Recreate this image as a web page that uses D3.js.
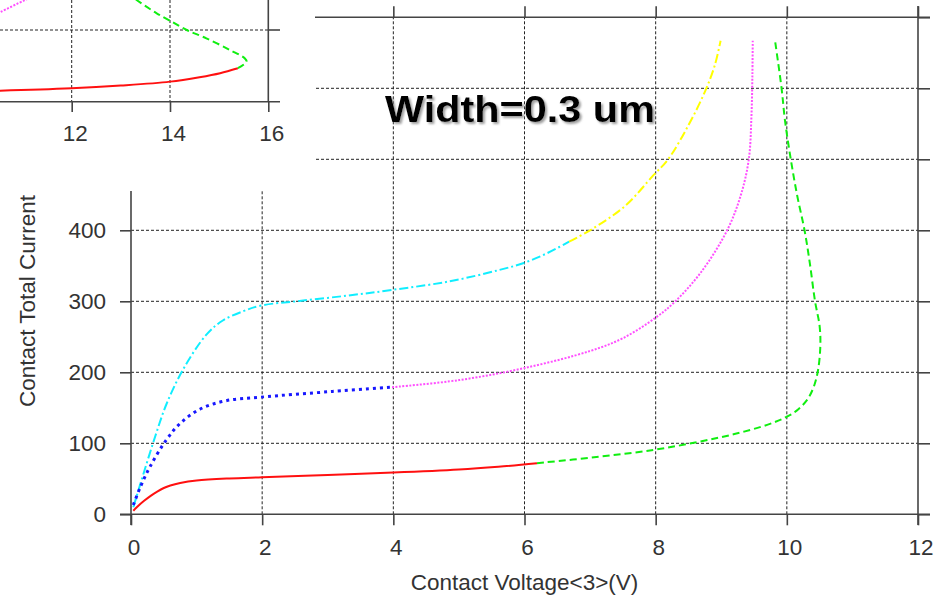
<!DOCTYPE html>
<html><head><meta charset="utf-8">
<script src="https://cdn.jsdelivr.net/npm/d3@7"></script>
<style>body{margin:0;background:#fff}svg{display:block}</style>
</head><body><svg id="c" width="946" height="597"></svg>
<script>
// ---------- data ----------
const xTicks = [0, 2, 4, 6, 8, 10, 12];
const yTickLabels = [0, 100, 200, 300, 400];
const yGridVals = [100, 200, 300, 400, 500, 600];
const yFrameTicks = [0, 100, 200, 300, 400, 500, 600, 700];
const insetTicks = [12, 14, 16];
const xTitle = "Contact Voltage<3>(V)";
const yTitle = "Contact Total Current";
const note = "Width=0.3 um";

const redV = [0.035, 0.1, 0.2, 0.3, 0.4, 0.5, 0.6, 0.75, 1.0, 1.5, 2.0, 3.0, 4.0, 5.0, 5.6, 6.19];
const redI = [5, 11, 19, 26, 32, 37, 40.5, 44, 47.5, 50.5, 52.2, 55.5, 58.7, 63, 67, 72];
const greenV = [6.19, 7.13, 7.97, 8.65, 9.2, 9.7, 9.97, 10.15, 10.3, 10.4, 10.47, 10.51, 10.5, 10.43, 10.35, 10.27, 10.16, 10.06, 9.97, 9.92, 9.82];
const greenI = [72, 81, 90.7, 102, 113, 126, 136, 146, 160, 177, 200, 235, 265, 300, 354, 400, 448, 500, 556, 600, 667];
const cyanV = [0.035, 0.2, 0.37, 0.54, 0.8, 1.15, 1.4, 1.71, 1.98, 2.57, 3.3, 3.98, 4.85, 5.61, 5.99, 6.35, 6.68];
const cyanI = [10, 60, 110, 155, 205, 253, 273, 286, 294, 300.5, 308, 316, 328, 344, 354, 368, 384];
const yellowV = [6.68, 7.0, 7.53, 7.97, 8.19, 8.5, 8.75, 8.9, 8.99];
const yellowI = [384, 400, 434, 478, 500, 548, 595, 632, 667];
const blueV = [0.035, 0.15, 0.29, 0.54, 0.75, 1.05, 1.45, 1.98, 3.07, 3.98];
const blueI = [13, 40, 67, 105, 128, 148, 160, 165, 173, 179];
const magentaV = [3.98, 5.0, 6.0, 7.0, 7.5, 8.0, 8.3, 8.7, 9.09, 9.3, 9.42, 9.46, 9.475, 9.48];
const magentaI = [179, 189, 206, 230, 248, 277, 300, 342, 400, 450, 500, 560, 620, 667];

// inset (cropped second chart)
const insetRedV = [10.3, 10.54, 12.0, 13.0, 14.0, 14.6, 15.02, 15.38];
const insetRedI = [15, 15.3, 18.6, 22.5, 28, 34.2, 39.8, 46.7];
const insetGreenV = [15.38, 15.557, 15.52, 15.22, 14.74, 14.34, 14.0, 13.73, 13.52, 13.32, 13.15];
const insetGreenI = [46.7, 55.8, 60.5, 72.1, 88.4, 100, 113, 123.3, 132.5, 141.8, 150];
const insetMagV = [10.3, 10.54, 11.05, 11.3];
const insetMagI = [117, 124.7, 141.8, 149];

// ---------- drawing ----------
const svg = d3.select("#c");
const FONT = "'Liberation Sans', Arial, sans-serif";
const AX = "#444";

const defs = svg.append("defs");
const flt = defs.append("filter").attr("id", "shadow").attr("x", "-5%").attr("y", "-20%").attr("width", "115%").attr("height", "150%");
flt.append("feDropShadow").attr("dx", 2).attr("dy", 2).attr("stdDeviation", 0.8)
  .attr("flood-color", "#888").attr("flood-opacity", 0.8);

const x = d3.scaleLinear().domain([0, 12]).range([131, 918]);
const y = d3.scaleLinear().domain([0, 700]).range([514.3, 17.3]);

// grid
const grid = svg.append("g").attr("stroke", "#222").attr("stroke-width", 1).attr("stroke-dasharray", "3,2");
grid.selectAll("line.h").data(yGridVals).join("line")
  .attr("x1", x(0)).attr("x2", x(12)).attr("y1", d => y(d)).attr("y2", d => y(d));
grid.selectAll("line.v").data(xTicks.slice(1, -1)).join("line")
  .attr("y1", y(0)).attr("y2", y(700)).attr("x1", d => x(d)).attr("x2", d => x(d));

// curves
const series = [
  {v: redV, i: redI, color: "#ff1010", dash: null, w: 2},
  {v: greenV, i: greenI, color: "#10ee10", dash: "7,4", w: 2},
  {v: cyanV, i: cyanI, color: "#10eeff", dash: "9,3,2,3", w: 2},
  {v: yellowV, i: yellowI, color: "#ffff00", dash: "9,3,2,3", w: 2},
  {v: blueV, i: blueI, color: "#1818ff", dash: "3,4", w: 3},
  {v: magentaV, i: magentaI, color: "#ff50ff", dash: "2,1.5", w: 2}
];
const line = d3.line().x(d => x(d[0])).y(d => y(d[1])).curve(d3.curveCatmullRom.alpha(0.5));
series.forEach(s => {
  svg.append("path").datum(d3.zip(s.v, s.i)).attr("d", line)
    .attr("fill", "none").attr("stroke", s.color).attr("stroke-width", s.w)
    .attr("stroke-dasharray", s.dash);
});

// frame lines
const frame = svg.append("g").attr("stroke", AX).attr("stroke-width", 1.6);
frame.append("line").attr("x1", 120).attr("x2", 930).attr("y1", y(0)).attr("y2", y(0));
frame.append("line").attr("x1", 120).attr("x2", 930).attr("y1", y(700)).attr("y2", y(700));
frame.append("line").attr("x1", x(0)).attr("x2", x(0)).attr("y1", 6).attr("y2", 525);
frame.append("line").attr("x1", x(12)).attr("x2", x(12)).attr("y1", 6).attr("y2", 525);

function styleAxis(g) {
  g.select(".domain").remove();
  g.selectAll(".tick line").attr("stroke", AX).attr("stroke-width", 1.6);
  g.selectAll(".tick text").attr("fill", "#333").style("font-family", FONT).style("font-size", "22.5px");
}
svg.append("g").attr("transform", `translate(0,${y(0)})`)
  .call(d3.axisBottom(x).tickValues(xTicks).tickSize(11).tickPadding(14))
  .call(styleAxis).call(g => g.selectAll(".tick text").attr("dx", 2.5));
svg.append("g").attr("transform", `translate(${x(0)},0)`)
  .call(d3.axisLeft(y).tickValues(yTickLabels).tickSize(11).tickPadding(14))
  .call(styleAxis);
svg.append("g").attr("transform", `translate(0,${y(700)})`)
  .call(d3.axisTop(x).tickValues(xTicks).tickSize(11).tickFormat(""))
  .call(styleAxis);
svg.append("g").attr("transform", `translate(${x(12)},0)`)
  .call(d3.axisRight(y).tickValues(yFrameTicks).tickSize(12).tickFormat(""))
  .call(styleAxis);

// titles
svg.append("text").attr("x", x(6)).attr("y", 590).attr("text-anchor", "middle")
  .attr("fill", "#333").style("font-family", FONT).style("font-size", "22.5px").text(xTitle);
svg.append("text").attr("transform", "translate(35,301) rotate(-90)").attr("text-anchor", "middle")
  .attr("fill", "#333").style("font-family", FONT).style("font-size", "22.5px").text(yTitle);

// ---------- overlay inset (cropped neighbouring chart) ----------
const ov = svg.append("g");
ov.append("rect").attr("x", 0).attr("y", 0).attr("width", 315).attr("height", 191).attr("fill", "#fff");

const ix = d3.scaleLinear().domain([12, 16]).range([71.7, 268.3]);
const iy = d3.scaleLinear().domain([0, 100]).range([101.7, 30]);

defs.append("clipPath").attr("id", "insetClip").append("rect")
  .attr("x", 0).attr("y", 0).attr("width", ix(16)).attr("height", iy(0));

const ig = ov.append("g").attr("stroke", "#222").attr("stroke-width", 1).attr("stroke-dasharray", "3,2");
ig.append("line").attr("x1", 0).attr("x2", ix(16)).attr("y1", iy(100)).attr("y2", iy(100));
ig.selectAll("line.v").data(insetTicks.slice(0, -1)).join("line")
  .attr("x1", d => ix(d)).attr("x2", d => ix(d)).attr("y1", 0).attr("y2", iy(0));

const iline = d3.line().x(d => ix(d[0])).y(d => iy(d[1])).curve(d3.curveCatmullRom.alpha(0.5));
const insetSeries = [
  {v: insetRedV, i: insetRedI, color: "#ff1010", dash: null, w: 2},
  {v: insetGreenV, i: insetGreenI, color: "#10ee10", dash: "7,4", w: 2},
  {v: insetMagV, i: insetMagI, color: "#ff50ff", dash: "2,1.5", w: 2}
];
const ic = ov.append("g").attr("clip-path", "url(#insetClip)");
insetSeries.forEach(s => {
  ic.append("path").datum(d3.zip(s.v, s.i)).attr("d", iline)
    .attr("fill", "none").attr("stroke", s.color).attr("stroke-width", s.w)
    .attr("stroke-dasharray", s.dash);
});

const iframe = ov.append("g").attr("stroke", AX).attr("stroke-width", 1.6);
iframe.append("line").attr("x1", 0).attr("x2", 280).attr("y1", iy(0)).attr("y2", iy(0));
iframe.append("line").attr("x1", ix(16)).attr("x2", 280).attr("y1", iy(100)).attr("y2", iy(100));
iframe.append("line").attr("x1", ix(16)).attr("x2", ix(16)).attr("y1", 0).attr("y2", iy(0));
ov.append("g").attr("transform", `translate(0,${iy(0)})`)
  .call(d3.axisBottom(ix).tickValues(insetTicks).tickSize(10.3).tickPadding(13.4).tickFormat(d3.format("d")))
  .call(styleAxis).call(g => g.selectAll(".tick text").attr("dx", 3));

// ---------- annotation ----------
svg.append("text").attr("x", 385).attr("y", 121.7).attr("fill", "#000")
  .style("font-family", FONT).style("font-weight", "bold").style("font-size", "37px")
  .attr("filter", "url(#shadow)")
  .attr("textLength", 270).attr("lengthAdjust", "spacingAndGlyphs").text(note);
</script></body></html>
